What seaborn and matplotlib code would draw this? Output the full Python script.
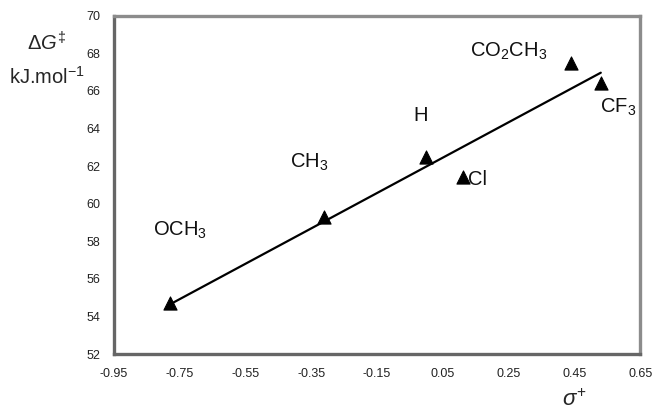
import matplotlib
matplotlib.use("Agg")
import matplotlib.pyplot as plt
import seaborn as sns
import pandas as pd
import numpy as np

# dados: sigma+ vs energia de ativacao
substituents = ["OCH3", "CH3", "H", "Cl", "CO2CH3", "CF3"]
sigma_plus = [-0.78, -0.31, 0.00, 0.11, 0.44, 0.53]
delta_g = [54.7, 59.3, 62.5, 61.4, 67.5, 66.4]

label_text = ["OCH$_3$", "CH$_3$", "H", "Cl", "CO$_2$CH$_3$", "CF$_3$"]
label_x = [-0.83, -0.415, -0.04, 0.126, 0.133, 0.528]
label_y = [58.6, 62.2, 64.7, 61.3, 68.1, 65.15]

x_ticks = [-0.95, -0.75, -0.55, -0.35, -0.15, 0.05, 0.25, 0.45, 0.65]
y_ticks = [52, 54, 56, 58, 60, 62, 64, 66, 68, 70]

df = pd.DataFrame({"sub": substituents, "sigma": sigma_plus, "dG": delta_g})

sns.set_style("white")
plt.rcParams["font.family"] = ["Liberation Sans", "DejaVu Sans"]
plt.rcParams["mathtext.fontset"] = "custom"
plt.rcParams["mathtext.rm"] = "Liberation Sans"
plt.rcParams["mathtext.it"] = "Liberation Sans:italic"

fig = plt.figure(figsize=(6.54, 4.17), dpi=100)
ax = fig.add_axes([0.174, 0.151, 0.805, 0.811])

sns.regplot(data=df, x="sigma", y="dG", ax=ax, scatter=False, ci=None,
            truncate=True, line_kws={"color": "black", "lw": 1.6})
sns.scatterplot(data=df, x="sigma", y="dG", ax=ax, marker="^", s=90,
                color="black", edgecolor="black", zorder=3)

for t, lx, ly in zip(label_text, label_x, label_y):
    ax.text(lx, ly, t, fontsize=14.5, ha="left", va="center", color="#111111")

ax.set_xlim(-0.95, 0.65)
ax.set_ylim(52, 70)
ax.set_xticks(x_ticks)
ax.set_yticks(y_ticks)
ax.set_xticklabels([f"{v:.2f}" for v in x_ticks])
ax.set_xlabel("")
ax.set_ylabel("")
ax.tick_params(axis="both", direction="out", length=4, width=1,
               color="#555555", labelsize=9, labelcolor="#222222", pad=6)
for side, col in [("left", "#666666"), ("bottom", "#666666"),
                  ("top", "#8c8c8c"), ("right", "#8c8c8c")]:
    ax.spines[side].set_visible(True)
    ax.spines[side].set_color(col)
    ax.spines[side].set_linewidth(2.4)

fig.text(0.072, 0.897, r"$\mathit{\Delta G}^{\ddagger}$", fontsize=14.5,
         ha="center", va="center")
fig.text(0.072, 0.815, "kJ.mol$^{-1}$", fontsize=14.5, ha="center", va="center")
fig.text(0.878, 0.04, r"$\mathit{\sigma}^{+}$", fontsize=16,
         ha="center", va="center")

fig.savefig("out.png", dpi=100)
